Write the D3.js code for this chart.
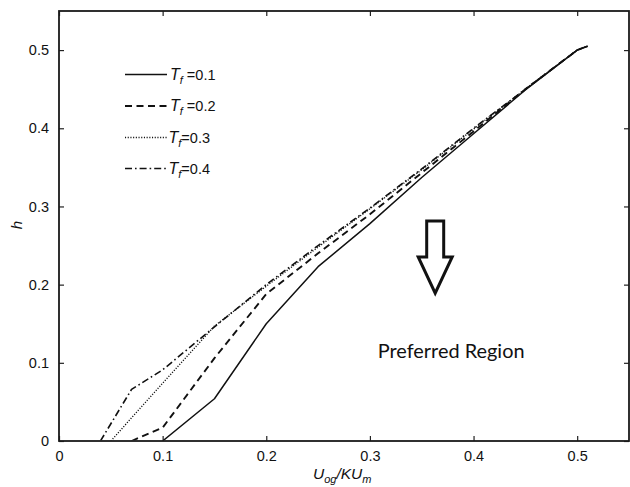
<!DOCTYPE html>
<html>
<head>
<meta charset="utf-8">
<script src="https://cdn.jsdelivr.net/npm/d3@7"></script>
<style>
  html, body { margin: 0; padding: 0; background: #fff; }
  svg { display: block; }
  text { font-family: "Liberation Sans", Arial, sans-serif; fill: #111; }
</style>
</head>
<body>
<svg id="chart" width="630" height="487"></svg>
<script>
// h versus U_og/KU_m for four values of T_f
const seriesNames = ["0.1", "0.2", "0.3", "0.4"];
const legendText = ["\u00a0=0.1", "\u00a0=0.2", "=0.3", "=0.4"];

const tf01 = [[0.10, 0], [0.15, 0.054], [0.20, 0.150], [0.25, 0.223], [0.30, 0.278],
              [0.35, 0.337], [0.40, 0.393], [0.45, 0.449], [0.50, 0.500], [0.51, 0.505]];
const tf02 = [[0.07, 0], [0.10, 0.017], [0.15, 0.106], [0.20, 0.188], [0.25, 0.240],
              [0.30, 0.290], [0.35, 0.343], [0.40, 0.396], [0.45, 0.450], [0.50, 0.500], [0.51, 0.505]];
const tf03 = [[0.05, 0], [0.10, 0.074], [0.15, 0.147], [0.20, 0.198], [0.25, 0.248],
              [0.30, 0.297], [0.35, 0.347], [0.40, 0.399], [0.45, 0.450], [0.50, 0.500], [0.51, 0.505]];
const tf04 = [[0.04, 0], [0.07, 0.066], [0.10, 0.091], [0.15, 0.146], [0.20, 0.200], [0.25, 0.250],
              [0.30, 0.298], [0.35, 0.348], [0.40, 0.400], [0.45, 0.450], [0.50, 0.500], [0.51, 0.505]];

const xTicks = [0, 0.1, 0.2, 0.3, 0.4, 0.5];
const yTicks = [0, 0.1, 0.2, 0.3, 0.4, 0.5];

// annotation: arrow pointing into the region, in data units
const arrowX = 0.363, arrowTop = 0.2815, arrowHeadY = 0.2355, arrowTip = 0.189;
const regionLabel = "Preferred Region";
const regionAt = [0.3075, 0.106];

const svg = d3.select("#chart");
const x = d3.scaleLinear().domain([0, 0.55]).range([59, 629]);
const y = d3.scaleLinear().domain([0, 0.55]).range([441, 11]);

const styles = [
  { dash: null, width: 1.5 },
  { dash: "7,4.5", width: 1.9 },
  { dash: "1.1,1.6", width: 1.4 },
  { dash: "7,3,1.6,3", width: 1.6 }
];
const allSeries = [tf01, tf02, tf03, tf04];

// frame with inward ticks on all four sides
const tickLen = 5;
const fmt = d => d === 0 ? "0" : d3.format(".1f")(d);
const g = svg.append("g");
g.append("g").attr("transform", `translate(0,${y(0)})`)
  .call(d3.axisBottom(x).tickValues(xTicks).tickSizeInner(-tickLen).tickSizeOuter(0)
        .tickPadding(10).tickFormat(fmt));
g.append("g").attr("transform", `translate(0,${y(0.55)})`)
  .call(d3.axisTop(x).tickValues(xTicks).tickSizeInner(-tickLen).tickSizeOuter(0).tickFormat(""));
g.append("g").attr("transform", `translate(${x(0)},0)`)
  .call(d3.axisLeft(y).tickValues(yTicks).tickSizeInner(-tickLen).tickSizeOuter(0)
        .tickPadding(10).tickFormat(fmt));
g.append("g").attr("transform", `translate(${x(0.55)},0)`)
  .call(d3.axisRight(y).tickValues(yTicks).tickSizeInner(-tickLen).tickSizeOuter(0).tickFormat(""));
g.selectAll(".domain").remove();
g.selectAll("g").attr("font-family", null).attr("font-size", null);
g.selectAll(".tick line").attr("stroke", "#222").attr("stroke-width", 1.2);
g.selectAll(".tick text")
  .style("font-family", "'Liberation Sans', Arial, sans-serif")
  .style("font-size", "14.5px").attr("fill", "#111");

svg.append("rect")
  .attr("x", x(0)).attr("y", y(0.55))
  .attr("width", x(0.55) - x(0)).attr("height", y(0) - y(0.55))
  .attr("fill", "none").attr("stroke", "#1a1a1a").attr("stroke-width", 1.8);

// curves
const line = d3.line().x(d => x(d[0])).y(d => y(d[1]));
const clipId = "plotclip";
svg.append("clipPath").attr("id", clipId).append("rect")
  .attr("x", x(0)).attr("y", y(0.55)).attr("width", x(0.55) - x(0)).attr("height", y(0) - y(0.55) - 0.8);
allSeries.forEach((s, i) => {
  svg.append("path").datum(s)
    .attr("d", line)
    .attr("clip-path", `url(#${clipId})`)
    .attr("fill", "none")
    .attr("stroke", "#111")
    .attr("stroke-width", styles[i].width)
    .attr("stroke-dasharray", styles[i].dash)
    .attr("stroke-linejoin", "round");
});

// legend
const legY = [74.5, 106, 137.5, 168.5];
const leg = svg.append("g");
seriesNames.forEach((name, i) => {
  leg.append("line")
    .attr("x1", 125).attr("x2", 167).attr("y1", legY[i]).attr("y2", legY[i])
    .attr("stroke", "#111").attr("stroke-width", styles[i].width)
    .attr("stroke-dasharray", styles[i].dash);
  const t = leg.append("text").attr("x", i < 2 ? 170 : 168.5).attr("y", legY[i] + 5)
    .style("font-size", "14.5px");
  t.append("tspan").attr("font-style", "italic").style("font-size", "16px").text("T");
  t.append("tspan").attr("font-style", "italic").attr("dy", 4).style("font-size", "11px").text("f");
  t.append("tspan").attr("dy", -4).text(legendText[i]);
});

// axis titles
const xl = svg.append("text").attr("x", 313).attr("y", 479).style("font-size", "15.5px").attr("font-style", "italic");
xl.append("tspan").text("U");
xl.append("tspan").attr("dy", 4).style("font-size", "11px").text("og");
xl.append("tspan").attr("dy", -4).text("/KU");
xl.append("tspan").attr("dy", 4).style("font-size", "11px").text("m");

svg.append("text").attr("transform", "translate(22,225) rotate(-90)")
  .attr("text-anchor", "middle").attr("font-style", "italic").style("font-size", "15px").text("h");

// block arrow
const ax = x(arrowX), hw = 8.5, ww = 17;
const arrowPts = [
  [ax - hw, y(arrowTop)], [ax + hw, y(arrowTop)], [ax + hw, y(arrowHeadY)], [ax + ww, y(arrowHeadY)],
  [ax, y(arrowTip)], [ax - ww, y(arrowHeadY)], [ax - hw, y(arrowHeadY)]
];
svg.append("path")
  .attr("d", d3.line()(arrowPts) + "Z")
  .attr("fill", "#fff").attr("stroke", "#111").attr("stroke-width", 3).attr("stroke-linejoin", "miter");

// region label, sized to its measured width
const rl = svg.append("text").attr("x", x(regionAt[0])).attr("y", y(regionAt[1]))
  .style("font-family", "Lato, 'Open Sans', sans-serif").style("font-size", "20px").text(regionLabel);
const w = rl.node().getComputedTextLength();
rl.style("font-size", (20 * 147 / w).toFixed(2) + "px");
</script>
</body>
</html>
